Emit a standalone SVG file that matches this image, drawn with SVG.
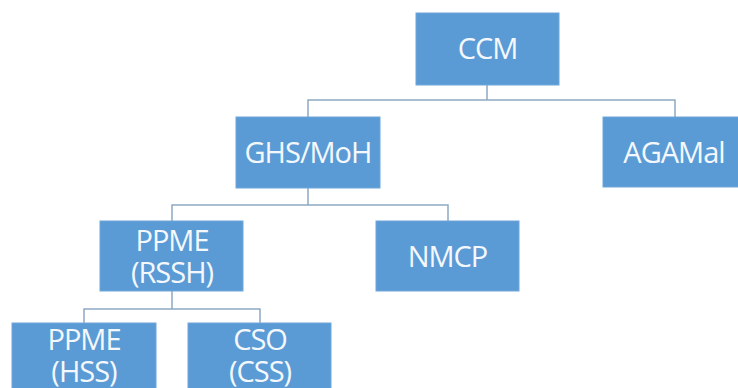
<svg xmlns="http://www.w3.org/2000/svg" width="738" height="388" viewBox="0 0 738 388">
<style>
.box{fill:#5b9bd5;stroke:#6fa6d9;stroke-width:1}
.t{font-family:"Open Sans","Noto Sans",sans-serif;font-size:29px;letter-spacing:-1px;fill:#f4f8fc;text-anchor:middle}
.c{fill:none;stroke:#8ea9c3;stroke-width:1.5}
</style>
<rect width="738" height="388" fill="#ffffff"/>
<g id="connectors">
<path class="c" d="M487,85 V100 M308,117 V100 H675 V117"/>
<path class="c" d="M308,188 V205 M172,221 V205 H448 V221"/>
<path class="c" d="M172,291 V309 M84,323 V309 H260 V323"/>
</g>
<g id="ccm"><rect class="box" x="416" y="13" width="143" height="72"/><text class="t" x="487.5" y="59">CCM</text></g>
<g id="ghs"><rect class="box" x="236" y="117" width="144" height="71"/><text class="t" x="308" y="163">GHS/MoH</text></g>
<g id="agamal"><rect class="box" x="603" y="117" width="144" height="70"/><text class="t" x="674" y="163">AGAMal</text></g>
<g id="ppme-rssh"><rect class="box" x="100" y="221" width="143" height="70"/><text class="t" x="172" y="251">PPME</text><text class="t" x="172" y="283">(RSSH)</text></g>
<g id="nmcp"><rect class="box" x="376" y="221" width="143" height="70"/><text class="t" x="447.5" y="267">NMCP</text></g>
<g id="ppme-hss"><rect class="box" x="12" y="323" width="144" height="72"/><text class="t" x="84" y="350">PPME</text><text class="t" x="84" y="382">(HSS)</text></g>
<g id="cso-css"><rect class="box" x="188" y="323" width="143" height="72"/><text class="t" x="260" y="350">CSO</text><text class="t" x="260" y="382">(CSS)</text></g>
</svg>
